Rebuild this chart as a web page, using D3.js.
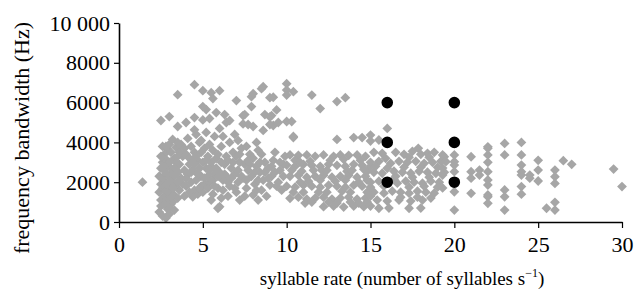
<!DOCTYPE html>
<html>
<head>
<meta charset="utf-8">
<script src="https://cdn.jsdelivr.net/npm/d3@7"></script>
<style>
  html, body { margin: 0; padding: 0; background: #fff; }
  svg { display: block; }
  text { font-family: "Liberation Serif", "DejaVu Serif", serif; }
</style>
</head>
<body>
<svg id="chart" width="637" height="303"></svg>
<script>
// ---- data (syllable rate, frequency bandwidth in Hz) ----
const greyPoints = [
  [1.4,2000],
  [2.5,5100],[3.0,5300],[3.5,6400],[3.5,4800],[4.0,5000],[4.5,6900],[4.5,5250],[4.5,4630],
  [2.4,500],[2.6,300],[2.8,200],[2.9,650],[3.0,400],[3.1,900],[2.5,800],
  [2.5,1100],[2.7,1300],[2.9,1150],[3.2,1000],[2.4,1500],[2.6,1700],[2.8,1600],[3.0,1450],[3.3,1350],
  [2.5,1900],[2.7,2050],[2.9,1850],[3.1,2100],[3.4,1900],[2.4,2300],[2.6,2200],[2.8,2450],[3.0,2300],[3.2,2500],
  [2.5,2700],[2.7,2600],[2.9,2850],[3.1,2700],[3.4,2600],[2.6,3000],[2.8,3150],[3.0,3000],[3.3,3200],
  [2.7,3400],[2.9,3650],[3.1,3500],[3.4,3750],[3.0,3900],[3.2,4150],[3.5,4000],
  [3.6,2900],[3.7,2200],[3.6,1600],[3.5,1200],[3.8,3300],[3.6,3500],[3.9,2600],[3.8,1900],
  [2.5,3300],[2.6,3800],[3.3,2300],[3.2,1700],[3.5,2500],[3.4,3000],
  [3.9,1300],[4.0,1800],[4.1,2400],[4.2,2900],[4.0,3400],[4.3,3800],[4.1,4200],[4.4,1270],[4.5,1600],
  [4.6,2100],[4.4,2600],[4.7,3100],[4.5,3500],[4.8,4000],[4.6,4400],
  [4.3,2000],[4.2,3200],[4.8,2700],[4.9,1800],[4.7,1400],
  [5.0,1500],[5.1,1900],[4.9,2300],[5.2,2700],[5.0,3000],[5.3,3300],[5.1,3700],[4.9,4100],[5.2,4500],
  [5.0,5130],[5.2,5650],[5.0,6600],[5.0,5800],
  [5.5,1100],[5.6,1400],[5.4,2000],[5.7,2400],[5.5,2800],[5.8,3200],[5.6,3600],[5.4,3900],[5.7,4300],
  [5.4,5200],[5.6,6200],[5.5,6500],[5.3,2300],[5.5,3000],
  [6.0,770],[6.1,1200],[5.9,1700],[6.2,2100],[6.0,2500],[6.3,2900],[5.9,3400],[6.1,3800],[6.0,4700],
  [6.0,6600],[6.4,5000],[5.8,5500],[6.3,5400],[6.6,5100],[5.9,690],[6.2,1600],[6.4,3300],[6.2,4300],
  [6.5,1300],[6.6,1800],[6.4,2300],[6.7,2700],[6.5,3100],[6.8,3500],[6.6,4000],[6.9,4400],[7.0,1500],
  [7.1,2000],[6.9,2400],[7.2,3000],[7.0,3300],[7.3,3700],[7.1,4100],[7.4,4930],[7.4,5350],[7.0,6100],
  [7.5,5400],[7.7,4900],
  [7.5,1300],[7.6,1700],[7.4,2200],[7.7,2600],[7.5,2900],[7.8,3400],[7.6,3800],[7.9,5800],[7.9,6300],
  [8.0,1360],[8.1,1900],[7.9,2300],[8.2,2800],[8.0,3200],[8.3,3600],[8.0,4800],[8.0,6450],[8.6,6800],[8.5,6700],
  [8.5,1600],[8.6,2100],[8.4,2500],[8.7,3000],[8.5,3400],[8.6,4600],[8.7,5400],[8.2,4000],
  [9.0,1860],[9.1,2300],[8.9,2700],[9.2,3100],[9.0,6250],[9.1,5350],[9.2,4850],[9.0,4900],[9.4,5630],
  [9.2,6270],[9.5,2000],[9.6,2600],[9.5,5000],[9.0,5280],[9.3,3500],[8.8,1300],[9.7,1600],
  [7.2,1100],[8.3,1100],
  [2.7,900],[3.0,700],[3.3,600],[2.8,1900],[3.1,1250],[3.3,1800],[3.5,2000],[3.3,2700],[3.5,3300],
  [2.8,3800],[3.7,3900],[3.9,3700],[4.0,2200],[4.2,1500],[4.3,2500],[4.5,2900],[4.6,3300],[4.4,3000],
  [4.7,2400],[4.8,1700],[4.9,3500],[5.1,2200],[5.3,1700],[5.2,3100],[5.4,2600],[5.6,2100],[5.8,2700],
  [5.7,1800],[5.9,2300],[6.1,3000],[6.3,2400],[6.5,2000],[6.7,2200],[6.8,3000],[6.9,1700],[7.1,2600],
  [7.3,2300],[7.2,3400],[7.6,2100],[7.8,2900],[7.7,3100],[8.1,2500],[8.3,2100],[8.4,3000],[8.2,1600],
  [8.7,2500],[8.9,2200],[9.1,2800],[9.3,2500],[9.4,1800],[9.6,3000],[9.8,2300],[9.8,2900],
  [10.0,6950],[10.0,6630],[10.4,6550],[10.0,6380],[10.0,5050],[10.3,5050],[10.4,4240],[10.4,4300],
  [11.5,6380],[12.0,5700],[13.0,6050],[13.5,6250],
  [13.0,4150],[14.0,4240],[14.5,4240],[15.0,4070],
  [9.9,3300],[10.2,3370],[10.7,3350],[11.2,3370],[11.7,3300],[12.2,3370],[13.2,3370],[13.7,3350],[14.2,3370],[14.7,3300],
  [10.0,2860],[10.5,2800],[11.0,2900],[11.5,2850],[12.0,2800],[12.5,2900],[13.0,2850],[13.5,2800],[14.0,2900],[14.5,2850],[15.0,2800],
  [10.2,2300],[10.7,2350],[11.2,2250],[11.7,2300],[12.2,2350],[12.7,2250],[13.2,2300],[13.7,2350],[14.2,2250],[14.7,2300],
  [10.0,1800],[10.5,1750],[11.0,1850],[11.5,1800],[12.0,1750],[12.5,1850],[13.0,1800],[13.5,1750],[14.0,1850],[14.5,1800],[15.0,1750],
  [10.2,1190],[10.7,1250],[11.2,1150],[11.7,1200],[12.2,1250],[12.7,1150],[13.2,1200],[13.7,1250],[14.2,1150],[14.7,1200],
  [12.2,770],[12.8,800],[13.4,750],[14.0,800],[14.6,770],[15.0,800],
  [10.5,3100],[11.4,3050],[12.6,3100],[13.4,3150],[14.4,3100],[10.9,2550],[12.1,2600],[13.6,2550],[14.8,2550],
  [11.3,2050],[12.9,2050],[14.3,2000],[10.4,1500],[11.9,1500],[13.3,1550],[14.8,1500],[11.1,950],[13.0,950],[14.3,950],
  [10.3,2600],[10.8,3000],[11.6,2600],[12.4,2600],[12.8,3300],[13.9,2600],[14.6,2650],[11.0,1500],[12.4,1500],
  [13.8,1500],[10.8,2000],[12.0,2100],[13.5,2100],[14.8,2100],[11.5,1000],[12.5,1000],[13.8,1000],[14.8,1000],
  [16.0,4700],[15.0,4370],[15.5,4120],[17.85,3700],[18.4,3450],[19.4,3280],
  [15.2,3500],[15.7,3450],[16.5,3500],[17.0,3400],[17.5,3550],[18.0,3400],[18.8,3500],
  [15.0,3000],[15.5,3050],[16.2,2950],[16.7,3050],[17.2,3000],[17.7,3050],[18.2,2950],[18.7,3000],[19.2,3050],
  [15.2,2500],[15.7,2450],[16.4,2550],[16.9,2500],[17.4,2450],[17.9,2550],[18.4,2500],[18.9,2450],[19.4,2500],
  [15.0,2000],[15.5,2050],[16.6,1950],[17.1,2050],[17.6,2000],[18.1,1950],[18.6,2050],[19.1,2000],
  [15.2,1500],[15.8,1450],[16.3,1550],[16.8,1500],[17.3,1450],[17.8,1550],[18.3,1500],[18.8,1450],
  [15.4,1100],[16.0,1050],[16.7,1100],[17.4,1050],[18.1,1100],
  [15.5,690],[16.1,700],[17.3,690],[18.0,700],
  [15.3,2800],[16.0,2700],[16.5,2300],[17.0,2750],[17.5,2250],[18.0,2750],[18.5,2250],[19.0,2750],
  [15.8,1800],[16.4,2150],[17.3,1750],[18.2,1800],[19.0,1750],[16.8,1250],[17.8,1250],[18.6,1200],
  [15.0,1300],[15.9,3200],[17.3,3250],[18.5,3250],
  [19.3,3370],[19.3,2710],[19.3,2360],[19.3,1710],[19.5,3030],
  [20.0,3370],[20.0,2860],[20.0,2530],[20.0,1520],[20.0,600],[20.0,3030],
  [21.0,3280],[21.0,2530],[21.0,2200],[21.0,1440],[21.5,2610],[21.5,2360],
  [22.0,3780],[22.0,3370],[22.0,3000],[22.0,2530],[22.0,2110],[22.0,1860],[22.0,1360],[22.0,940],[22.0,3700],[22.0,1270],
  [23.0,3950],[23.0,3370],[23.0,1610],[23.0,1270],[23.0,600],
  [24.0,4000],[24.0,3370],[24.0,2860],[24.0,2530],[24.0,2360],[24.0,1780],[24.0,1400],
  [24.5,2360],[24.5,2200],
  [25.0,3100],[25.0,2610],[25.0,2060],
  [26.0,2610],[26.0,2280],[26.0,1940],[26.0,990],[26.0,600],
  [25.5,690],[26.5,3080],[27.0,2900],[29.5,2660],[30.0,1780]
];
const blackPoints = [[16,2000],[16,4000],[16,6000],[20,2000],[20,4000],[20,6000]];

const xTickValues = [0,5,10,15,20,25,30];
const yTickValues = [0,2000,4000,6000,8000,10000];
const yTickLabels = ["0","2000","4000","6000","8000","10 000"];
const xTitle = "syllable rate (number of syllables s";
const xTitleSup = "\u22121";
const yTitle = "frequency bandwidth (Hz)";

// ---- drawing ----
const SERIF = '"Liberation Serif", "Times New Roman", serif';
const svg = d3.select("#chart");
const x = d3.scaleLinear().domain([0,30]).range([119,622]);
const y = d3.scaleLinear().domain([0,10000]).range([222,23]);

const gPts = svg.append("g");
const diamond = d3.symbol().type(d3.symbolSquare).size(48);
gPts.selectAll("path.g").data(greyPoints).join("path")
  .attr("class","g")
  .attr("d", diamond)
  .attr("transform", d => `translate(${x(d[0])},${y(d[1])}) rotate(45)`)
  .attr("fill", "#a6a6a6");

const circle = d3.symbol().type(d3.symbolCircle).size(105);
gPts.selectAll("path.b").data(blackPoints).join("path")
  .attr("class","b")
  .attr("d", circle)
  .attr("transform", d => `translate(${x(d[0])},${y(d[1])})`)
  .attr("fill", "#000");

const xAxis = d3.axisBottom(x).tickValues(xTickValues).tickSize(6).tickSizeOuter(0).tickPadding(8);
const yAxis = d3.axisLeft(y).tickValues(yTickValues).tickSize(5).tickSizeOuter(0).tickPadding(4)
  .tickFormat((d,i) => yTickLabels[i]);

const gx = svg.append("g").attr("transform","translate(0,222)").call(xAxis);
const gy = svg.append("g").attr("transform","translate(119,0)").call(yAxis);
[gx, gy].forEach(g => {
  g.attr("font-family", SERIF).attr("font-size", 22);
  g.selectAll("path.domain").attr("stroke","#000").attr("stroke-width",1.6);
  g.selectAll(".tick line").attr("stroke","#000").attr("stroke-width",1.2);
  g.selectAll(".tick text").attr("fill","#000")
    .style("font-family", SERIF).style("font-size","22px");
});

const xt = svg.append("text")
  .attr("x", 402).attr("y", 285)
  .attr("text-anchor","middle")
  .attr("fill","#000")
  .style("font-family", SERIF)
  .style("font-size","19px");
xt.append("tspan").text(xTitle);
xt.append("tspan").attr("dy",-8).style("font-size","12px").text(xTitleSup);
xt.append("tspan").attr("dy",8).text(")");

svg.append("text")
  .attr("transform","translate(29,138) rotate(-90)")
  .attr("text-anchor","middle")
  .attr("fill","#000")
  .style("font-family", SERIF)
  .style("font-size","22px")
  .text(yTitle);
</script>
</body>
</html>
